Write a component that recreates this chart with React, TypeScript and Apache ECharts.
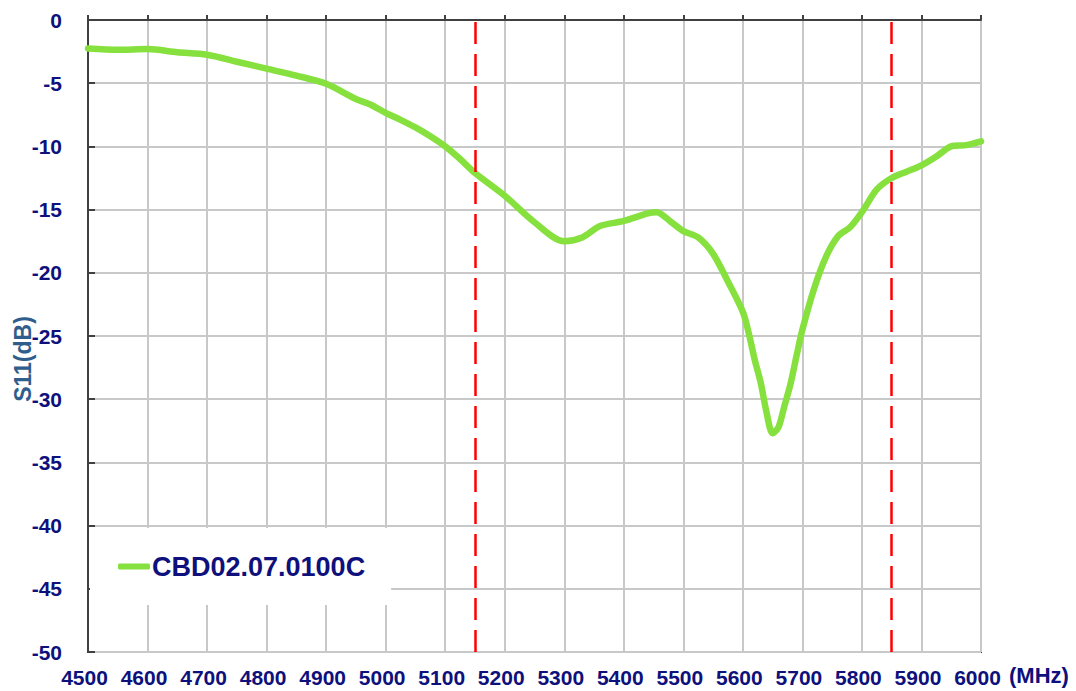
import React, { useEffect, useRef } from "react";
import * as echarts from "echarts";

const freqMHz = [
  4500, 4550, 4600, 4650, 4700, 4750, 4800, 4850, 4900, 4950, 4975, 5000, 5025, 5050, 5075, 5100,
  5125, 5150, 5200, 5250, 5300, 5330, 5360, 5400, 5440, 5455, 5480, 5500, 5525, 5550, 5575, 5600,
  5610, 5620, 5630, 5640, 5650, 5660, 5670, 5680, 5690, 5700, 5720, 5740, 5760, 5780, 5800, 5825,
  5850, 5875, 5900, 5925, 5950, 5975, 6000,
];
const s11dB = [
  -2.25, -2.35, -2.3, -2.55, -2.75, -3.3, -3.85, -4.4, -5.05, -6.25, -6.7, -7.35, -7.9, -8.5, -9.2, -10.0,
  -11.0, -12.1, -13.9, -16.0, -17.5, -17.2, -16.3, -15.9, -15.3, -15.2, -16.0, -16.7, -17.2, -18.5, -20.7, -23.1,
  -24.8, -26.9, -28.7, -31.1, -32.7, -32.2, -30.5, -28.8, -26.6, -24.5, -21.2, -18.7, -17.1, -16.4, -15.2, -13.4,
  -12.5, -12.0, -11.5, -10.8, -10.0, -9.9, -9.6,
];
const markerFreqs = [5150, 5850];
const seriesName = "CBD02.07.0100C";

const FONT = "'Liberation Sans', Arial, sans-serif";
const NAVY = "#0e107c";

export default function App() {
  const ref = useRef<HTMLDivElement>(null);
  useEffect(() => {
    if (!ref.current) return;
    const chart = echarts.init(ref.current, undefined, { renderer: "svg" });
    const data = freqMHz.map((f, i) => [f, s11dB[i]]);
    chart.setOption({
      animation: false,
      backgroundColor: "#ffffff",
      grid: {
        left: 88,
        top: 20,
        right: 95,
        bottom: 39,
        show: true,
        borderColor: "#404040",
        borderWidth: 2,
      },
      legend: {
        left: 90,
        top: 528,
        orient: "horizontal",
        backgroundColor: "#ffffff",
        padding: [25, 26, 25, 28],
        itemWidth: 32,
        itemHeight: 6,
        icon: "roundRect",
        itemGap: 0,
        data: [{ name: seriesName }],
        textStyle: { color: NAVY, fontSize: 27, fontWeight: "bold", fontFamily: FONT, padding: [0, 0, 0, -3] },
      },
      xAxis: {
        type: "value",
        min: 4500,
        max: 6000,
        interval: 100,
        axisLine: { show: true, lineStyle: { color: "#404040", width: 2 } },
        axisTick: { show: true, inside: true, length: 5, lineStyle: { color: "#404040", width: 2 } },
        splitLine: { show: true, lineStyle: { color: "#c8c8c8", width: 2 } },
        axisLabel: {
          color: NAVY,
          fontSize: 21,
          fontWeight: "bold",
          fontFamily: FONT,
          margin: 15,
          padding: [0, 7, 0, 0],
          formatter: (v: number) => String(v),
        },
      },
      yAxis: {
        type: "value",
        min: -50,
        max: 0,
        interval: 5,
        axisLine: { show: true, lineStyle: { color: "#404040", width: 2 } },
        axisTick: { show: true, inside: true, length: 7, lineStyle: { color: "#404040", width: 2 } },
        splitLine: { show: true, lineStyle: { color: "#c8c8c8", width: 2 } },
        axisLabel: {
          color: NAVY,
          fontSize: 21,
          fontWeight: "bold",
          fontFamily: FONT,
          margin: 26,
          formatter: (v: number) => String(v),
        },
      },
      graphic: [
        {
          type: "text",
          x: 23,
          y: 359,
          rotation: Math.PI / 2,
          style: {
            text: "S11(dB)",
            fill: "#2f5d8c",
            font: `bold 23px ${FONT}`,
            align: "center",
            verticalAlign: "middle",
          },
        },
        {
          type: "text",
          x: 1009,
          y: 664,
          style: {
            text: "(MHz)",
            fill: NAVY,
            font: `bold 22px ${FONT}`,
            align: "left",
            verticalAlign: "top",
          },
        },
      ],
      series: [
        {
          name: seriesName,
          type: "line",
          data,
          smooth: 0.3,
          showSymbol: false,
          symbol: "none",
          lineStyle: { color: "#86e03e", width: 6.5, cap: "round", join: "round" },
          itemStyle: { color: "#86e03e" },
          z: 2,
        },
        {
          name: "markers",
          type: "line",
          data: [],
          z: 3,
          markLine: {
            silent: true,
            symbol: "none",
            label: { show: false },
            lineStyle: { color: "#ff0000", width: 2.5, type: [22, 10] },
            data: markerFreqs.map((f) => ({ xAxis: f })),
          },
        },
      ],
    });
    return () => chart.dispose();
  }, []);
  return (
    <div
      ref={ref}
      style={{ position: "absolute", left: 0, top: 0, width: 1076, height: 691 }}
    />
  );
}
